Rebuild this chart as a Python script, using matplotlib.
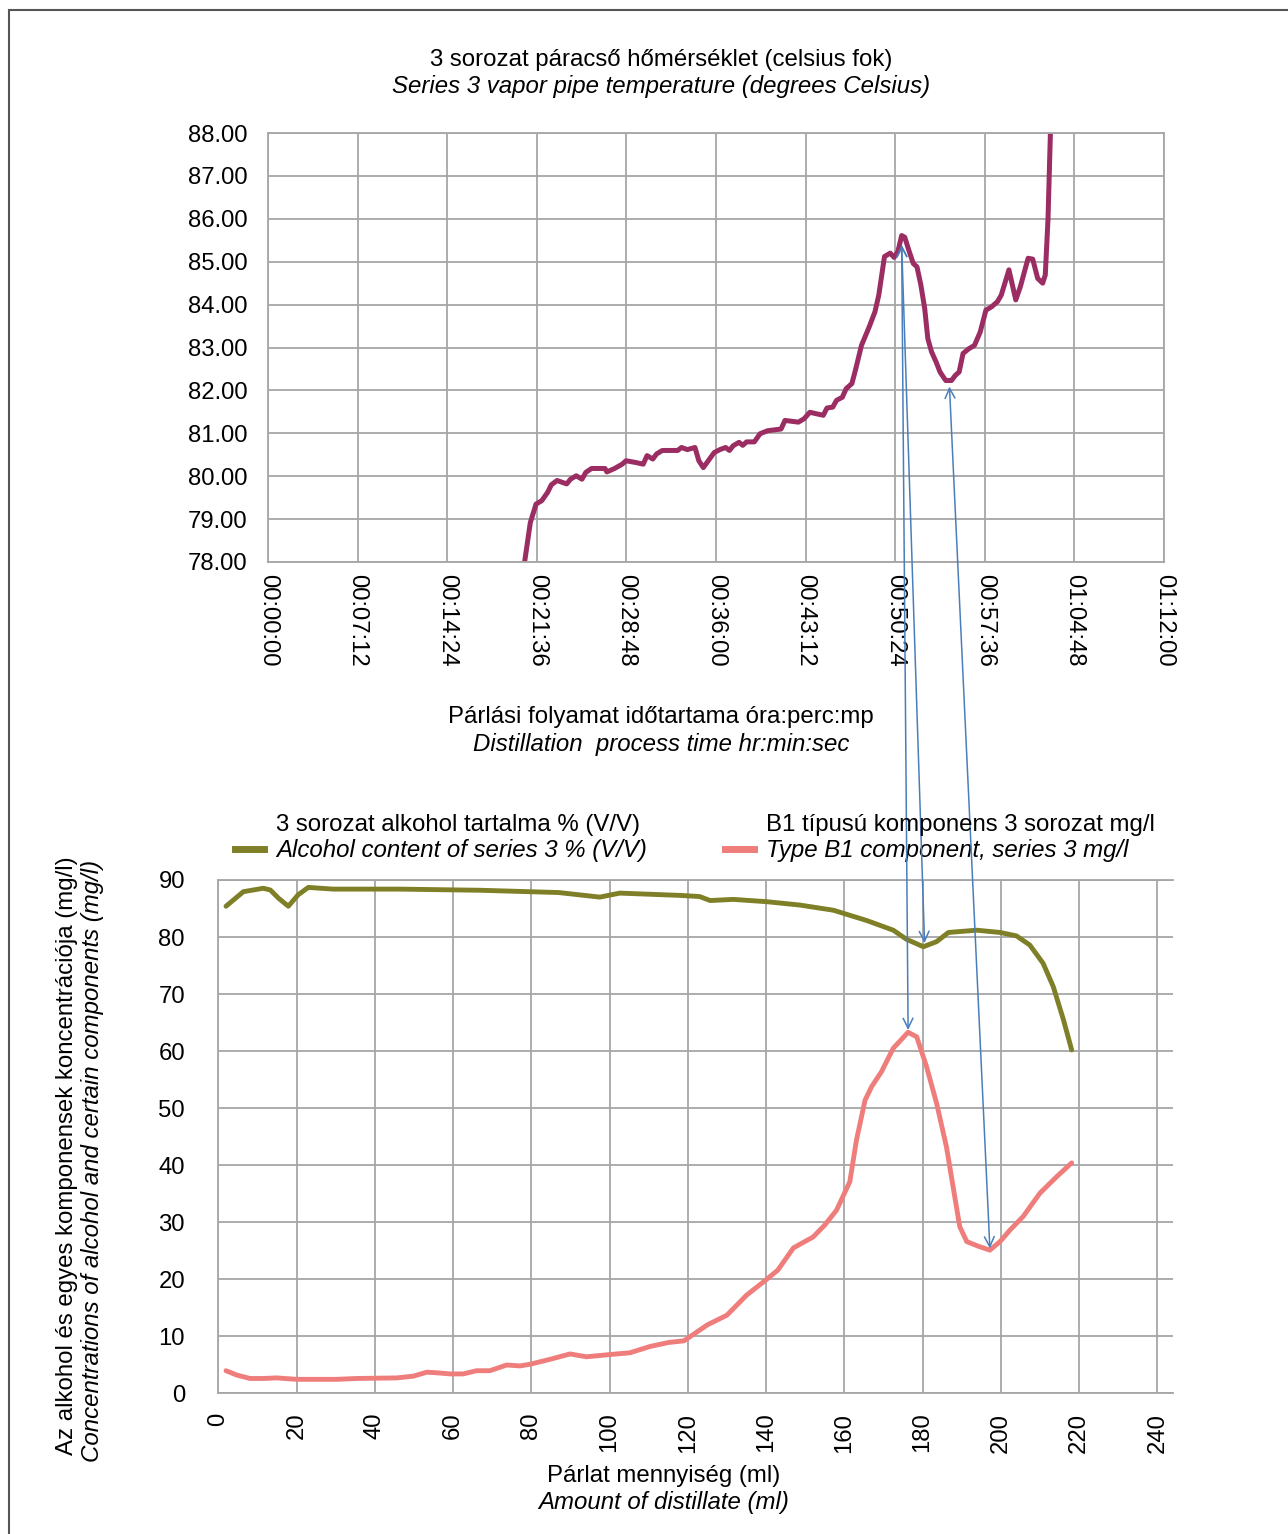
import matplotlib.pyplot as plt
from matplotlib.patches import ConnectionPatch, Rectangle
from matplotlib.lines import Line2D

plt.rcParams['font.family'] = ['Liberation Sans', 'DejaVu Sans']

# páracső hőmérséklet (perc, celsius)
temp_time = [20.62, 21.08, 21.54, 22.0, 22.46, 22.77, 23.23, 24.0, 24.31, 24.77,
             25.23, 25.54, 26.0, 27.08, 27.23, 27.85, 28.46, 28.77, 29.54, 30.15,
             30.46, 30.92, 31.23, 31.69, 32.92, 33.23, 33.69, 34.31, 34.62, 34.98,
             35.38, 35.85, 36.31, 36.77, 37.08, 37.38, 37.85, 38.15, 38.46, 39.08,
             39.54, 40.15, 41.23, 41.54, 42.62, 43.08, 43.54, 44.15, 44.62, 44.92,
             45.38, 45.69, 46.15, 46.46, 46.92, 47.23, 47.69, 48.31, 48.77, 49.08,
             49.38, 49.54, 50.0, 50.31, 50.62, 50.92, 51.17, 51.48, 51.85, 52.15,
             52.46, 52.77, 53.02, 53.32, 53.69, 54.0, 54.46, 54.92, 55.23, 55.54,
             55.85, 56.31, 56.77, 57.23, 57.69, 58.15, 58.62, 58.92, 59.54, 60.09,
             60.46, 61.08, 61.45, 61.85, 62.25, 62.46, 62.68, 62.92]
temp_val = [78.0, 78.92, 79.35, 79.43, 79.62, 79.8, 79.9, 79.82, 79.93, 80.01,
            79.93, 80.09, 80.18, 80.18, 80.1, 80.18, 80.28, 80.36, 80.32, 80.28,
            80.48, 80.40, 80.52, 80.6, 80.6, 80.67, 80.62, 80.67, 80.36, 80.2,
            80.36, 80.55, 80.62, 80.67, 80.6, 80.71, 80.79, 80.72, 80.8, 80.8,
            80.99, 81.06, 81.1, 81.3, 81.26, 81.34, 81.49, 81.45, 81.42, 81.59,
            81.61, 81.77, 81.84, 82.04, 82.16, 82.5, 83.05, 83.48, 83.83, 84.22,
            84.81, 85.12, 85.2, 85.1, 85.24, 85.61, 85.57, 85.28, 84.96, 84.88,
            84.46, 83.91, 83.21, 82.9, 82.66, 82.43, 82.23, 82.23, 82.35, 82.43,
            82.86, 82.97, 83.05, 83.36, 83.87, 83.95, 84.07, 84.22, 84.81, 84.11,
            84.42, 85.08, 85.06, 84.61, 84.50, 84.69, 86.0, 88.5]

# alkohol tartalom % (V/V) a párlat mennyiségének függvényében
alc_ml = [1.97, 6.4, 11.5, 13.3, 15.4, 17.9, 20.4, 23.0, 29.4, 46.4, 67, 87, 97.5,
          102.6, 118, 123, 125.7, 131.6, 140.1, 148.7, 157.2, 165.7, 172.5, 175.9,
          180.2, 183.6, 186.6, 193.8, 199.8, 204.0, 207.4, 210.8, 213.4, 216.0, 218.1]
alc_val = [85.4, 87.95, 88.55, 88.25, 86.8, 85.4, 87.4, 88.7, 88.4, 88.4, 88.2, 87.8, 87.0,
           87.7, 87.3, 87.1, 86.4, 86.6, 86.2, 85.6, 84.7, 82.9, 81.2, 79.6,
           78.3, 79.2, 80.8, 81.2, 80.8, 80.2, 78.6, 75.4, 71.3, 65.5, 60.2]

# B1 típusú komponens mg/l
b1_ml = [1.97, 4.7, 8.1, 11.5, 14.9, 20.0, 30.3, 35.4, 45.6, 49.8, 53.3, 55.8, 59.2,
         62.6, 66.0, 69.4, 73.7, 77.1, 79.7, 84.8, 89.9, 94.1, 100.1, 105.2, 110.3,
         115, 119, 125, 130, 135, 140, 143, 147, 152, 155, 158, 161.4, 163.1, 165.3,
         167.0, 169.5, 172.5, 176.3, 178.5, 181.0, 183.6, 186.1, 187.8, 189.5, 191.3,
         194.2, 197.2, 199.8, 202.3, 205.7, 210.0, 214.3, 218.1]
b1_val = [3.96, 3.2, 2.6, 2.6, 2.7, 2.45, 2.45, 2.6, 2.7, 3.0, 3.7, 3.6, 3.4,
          3.4, 3.96, 3.96, 4.96, 4.8, 5.1, 5.96, 6.9, 6.4, 6.8, 7.1, 8.2,
          8.9, 9.2, 12.0, 13.7, 17.2, 19.9, 21.6, 25.5, 27.4, 29.5, 32.1, 37.1, 44.4, 51.4,
          53.8, 56.4, 60.5, 63.3, 62.5, 57.3, 50.8, 43.2, 36.2, 29.2, 26.6,
          25.8, 25.1, 26.6, 28.6, 31.0, 35.1, 38.0, 40.4]

# nyilak: (idő perc, hőmérséklet) -> (ml, érték)
links = [(50.92, 85.39, 176.3, 63.7),
         (50.92, 85.39, 180.5, 78.95),
         (54.76, 82.09, 197.2, 25.4)]

legend_hu = ['3 sorozat alkohol tartalma % (V/V)', 'B1 típusú komponens 3 sorozat mg/l']
legend_en = ['Alcohol content of series 3 % (V/V)', 'Type B1 component, series 3 mg/l']

time_ticks = [i * 7.2 for i in range(11)]
ml_ticks = list(range(0, 241, 20))

grid_c = '#a6a6a6'
fs = 17.3
W, H = 1288, 1534
fig = plt.figure(figsize=(W / 100, H / 100), dpi=100)

def fmt_time(m):
    s = int(round(m * 60))
    return '%02d:%02d:%02d' % (s // 3600, (s % 3600) // 60, s % 60)

# felső diagram
ax1 = fig.add_axes([268 / W, 1 - 562 / H, 896 / W, 429 / H])
ax1.plot(temp_time, temp_val, color='#9b2d62', lw=3.6, solid_joinstyle='round')
ax1.set_xlim(0, 72)
ax1.set_ylim(78, 88)
ax1.set_xticks(time_ticks)
ax1.set_xticklabels([fmt_time(t) for t in time_ticks], rotation=270, va='top', ha='center')
ax1.set_yticks(range(78, 89))
ax1.set_yticklabels(['%.2f' % v for v in range(78, 89)])
ax1.grid(True, color=grid_c, lw=1.3)
for sp in ax1.spines.values():
    sp.set_color(grid_c)
    sp.set_linewidth(1.3)
ax1.tick_params(length=0, labelsize=17.2)
ax1.tick_params(axis='y', pad=15)
ax1.tick_params(axis='x', pad=9)

# alsó diagram
ax2 = fig.add_axes([218.3 / W, 1 - 1393.3 / H, 954.7 / W, 513.3 / H])
ax2.plot(alc_ml, alc_val, color='#7f7f27', lw=3.5, solid_joinstyle='round',
         solid_capstyle='round')
ax2.plot(b1_ml, b1_val, color='#ee7d7b', lw=3.5, solid_joinstyle='round',
         solid_capstyle='round')
ax2.set_xlim(0, 244)
ax2.set_ylim(0, 90)
ax2.set_xticks(ml_ticks)
ax2.set_xticklabels([str(v) for v in ml_ticks], rotation=90, va='top', ha='center')
ax2.set_yticks(range(0, 91, 10))
ax2.grid(True, color=grid_c, lw=1.3)
for sp in ax2.spines.values():
    sp.set_color(grid_c)
    sp.set_linewidth(1.3)
ax2.spines['right'].set_visible(False)
ax2.tick_params(length=0, labelsize=17.2)
ax2.tick_params(axis='y', pad=24)
ax2.tick_params(axis='x', pad=14)

# jelmagyarázat: dőlt angol sor a jel mellett, magyar sor fölötte
handles = [Line2D([], [], color='#7f7f27', lw=5), Line2D([], [], color='#ee7d7b', lw=5)]
leg = ax2.legend(handles, legend_en, ncol=2, frameon=False,
                 prop={'size': fs, 'style': 'italic'},
                 loc='lower left', bbox_to_anchor=(235 / W, 1 - 862 / H),
                 bbox_transform=fig.transFigure, handlelength=1.2, handletextpad=0.5,
                 columnspacing=3.25, borderpad=0, borderaxespad=0)
fig.canvas.draw()
for txt, hu in zip(leg.get_texts(), legend_hu):
    bb = txt.get_window_extent()
    fig.text(bb.x0 / W, (bb.y1 + 3) / H, hu, ha='left', va='bottom', fontsize=fs)

# feliratok
cx = 661 / W
fig.text(cx, 1 - 60 / H, '3 sorozat páracső hőmérséklet (celsius fok)', ha='center', va='center', fontsize=fs)
fig.text(cx, 1 - 87 / H, 'Series 3 vapor pipe temperature (degrees Celsius)', ha='center', va='center',
         fontsize=fs, style='italic')
fig.text(cx, 1 - 717 / H, 'Párlási folyamat időtartama óra:perc:mp', ha='center', va='center', fontsize=fs)
fig.text(cx, 1 - 744 / H, 'Distillation  process time hr:min:sec', ha='center', va='center',
         fontsize=fs, style='italic')
fig.text(664 / W, 1 - 1476 / H, 'Párlat mennyiség (ml)', ha='center', va='center', fontsize=fs)
fig.text(664 / W, 1 - 1502 / H, 'Amount of distillate (ml)', ha='center', va='center',
         fontsize=fs, style='italic')
fig.text(67 / W, 1 - 1156 / H, 'Az alkohol és egyes komponensek koncentrációja (mg/l)',
         ha='center', va='center', rotation=90, fontsize=fs)
fig.text(93 / W, 1 - 1161 / H, 'Concentrations of alcohol and certain components (mg/l)',
         ha='center', va='center', rotation=90, fontsize=fs, style='italic')

# összekötő nyilak a két diagram között
for t, temp, ml, val in links:
    con = ConnectionPatch(xyA=(t, temp), coordsA=ax1.transData,
                          xyB=(ml, val), coordsB=ax2.transData,
                          arrowstyle='<->,head_length=0.45,head_width=0.22',
                          mutation_scale=16, color='#4a7ebb', lw=1.1,
                          shrinkA=0, shrinkB=0)
    fig.add_artist(con)

# keret
fig.add_artist(Rectangle((9 / W, -0.1), 1.2, 1.1 - 10 / H, transform=fig.transFigure,
                         fill=False, edgecolor='#555555', lw=1.5))

fig.savefig('out.png', dpi=100)
